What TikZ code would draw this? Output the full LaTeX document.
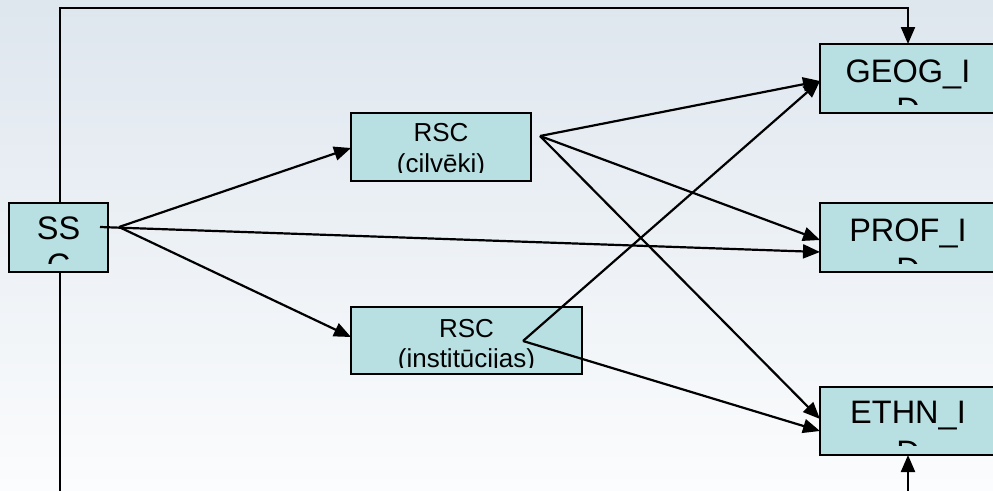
\documentclass[tikz,border=0pt]{standalone}
\usepackage{fontspec}
\setmainfont{Liberation Sans}
\usetikzlibrary{arrows.meta,calc}
\definecolor{bgtop}{RGB}{222,230,238}
\definecolor{bgbot}{RGB}{251,252,253}
\definecolor{boxfill}{RGB}{184,224,227}
\tikzset{
  box/.style={draw=black, line width=2.2pt, fill=boxfill, rectangle, inner sep=0pt, outer sep=0pt},
  bigtxt/.style={font=\fontsize{32.5}{38}\selectfont, inner sep=0pt, anchor=base},
  smalltxt/.style={font=\fontsize{26}{30}\selectfont, inner sep=0pt, anchor=base},
  conn/.style={draw=black, line width=2.2pt},
  arr/.style={conn, -{Triangle[length=17pt,width=14pt]}}
}
\begin{document}
\begin{tikzpicture}[x=1pt,y=-1pt]
\useasboundingbox (0,0) rectangle (993,490);
\shade[top color=bgtop, bottom color=bgbot] (0,0) rectangle (993,490);

% boxes
\node[box, minimum width=99pt, minimum height=69pt] (ssc) at (58.5,237.5) {};
\node[box, minimum width=180pt, minimum height=68pt] (rsc1) at (441,147) {};
\node[box, minimum width=231pt, minimum height=67pt] (rsc2) at (466.5,340.5) {};
\node[box, minimum width=176pt, minimum height=69pt] (geog) at (908,78.5) {};
\node[box, minimum width=176pt, minimum height=69pt] (prof) at (908,237.5) {};
\node[box, minimum width=176pt, minimum height=68pt] (ethn) at (908,421) {};

% clipped texts
\begin{scope}
\clip (ssc.north west) rectangle ($(ssc.south east)+(0,-9)$);
\node[bigtxt] (ssc-a) at ($(ssc.north)+(0,36)$) {SS};
\node[bigtxt] (ssc-b) at ($(ssc.north)+(0,73)$) {C};
\end{scope}
\begin{scope}
\clip (rsc1.north west) rectangle ($(rsc1.south east)+(0,-9)$);
\node[smalltxt] (rsc1-a) at ($(rsc1.north)+(0,28)$) {RSC};
\node[smalltxt] (rsc1-b) at ($(rsc1.north)+(0,59)$) {(cilvēki)};
\end{scope}
\begin{scope}
\clip (rsc2.north west) rectangle ($(rsc2.south east)+(0,-7)$);
\node[smalltxt] (rsc2-a) at ($(rsc2.north)+(0,30)$) {RSC};
\node[smalltxt] (rsc2-b) at ($(rsc2.north)+(0,60)$) {(institūcijas)};
\end{scope}
\begin{scope}
\clip (geog.north west) rectangle ($(geog.south east)+(0,-9)$);
\node[bigtxt] (geog-a) at ($(geog.north)+(0,38)$) {GEOG\_I};
\node[bigtxt] (geog-b) at ($(geog.north)+(0,76)$) {D};
\end{scope}
\begin{scope}
\clip (prof.north west) rectangle ($(prof.south east)+(0,-9)$);
\node[bigtxt] (prof-a) at ($(prof.north)+(0,38)$) {PROF\_I};
\node[bigtxt] (prof-b) at ($(prof.north)+(0,77)$) {D};
\end{scope}
\begin{scope}
\clip (ethn.north west) rectangle ($(ethn.south east)+(0,-10)$);
\node[bigtxt] (ethn-a) at ($(ethn.north)+(0,36)$) {ETHN\_I};
\node[bigtxt] (ethn-b) at ($(ethn.north)+(0,76)$) {D};
\end{scope}

% connector points
\coordinate (s0) at (100,227);
\coordinate (f0) at (119,227);
\coordinate (c1) at (540,136);
\coordinate (c2) at (523,341);
\coordinate (rsc1in) at (351,148);
\coordinate (rsc2in) at (351,337);
\coordinate (geogin) at (820,81);
\coordinate (profin1) at (820,240);
\coordinate (profin2) at (820,252);
\coordinate (ethnin1) at (820,419);
\coordinate (ethnin2) at (820,431);
\coordinate (topl) at (60,8);
\coordinate (topr) at (908,8);
\coordinate (botl) at (60,520);
\coordinate (botr) at (908,520);

% connectors
\draw[arr] (f0) -- (rsc1in);
\draw[arr] (f0) -- (rsc2in);
\draw[arr] (s0) -- (profin2);
\draw[arr] (c1) -- (geogin);
\draw[arr] (c1) -- (profin1);
\draw[arr] (c1) -- (ethnin1);
\draw[arr] (c2) -- (geogin);
\draw[arr] (c2) -- (ethnin2);
\draw[arr] (ssc.north -| topl) -- (topl) -- (topr) -- (geog.north);
\draw[arr] (ssc.south -| botl) -- (botl) -- (botr) -- (ethn.south);
\end{tikzpicture}
\end{document}
